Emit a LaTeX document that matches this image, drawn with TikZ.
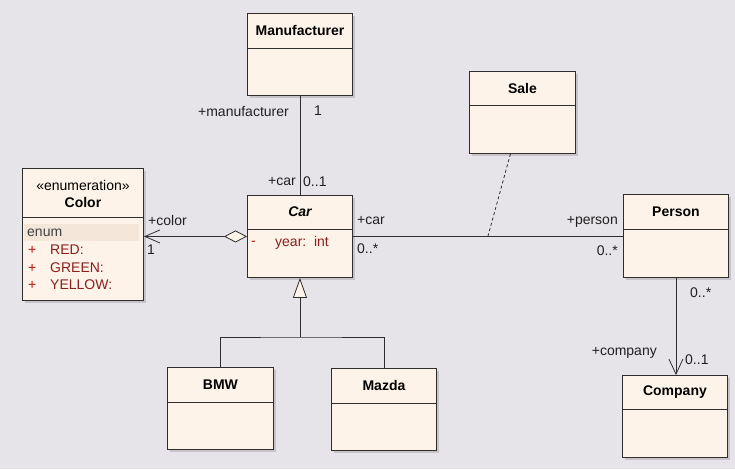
\documentclass[tikz,border=0pt]{standalone}
\usepackage{fontspec}
\setmainfont{Liberation Sans}
\usetikzlibrary{arrows.meta,shadows,calc}
\definecolor{bg}{HTML}{E7E4E9}
\definecolor{boxfill}{HTML}{FDF3E8}
\definecolor{enumrow}{HTML}{F4E6D9}
\definecolor{shadowc}{HTML}{C7C3C8}
\definecolor{border}{HTML}{2E2E2E}
\definecolor{attr}{HTML}{8B1E1E}
\definecolor{vis}{HTML}{C01010}
\definecolor{lbl}{HTML}{202020}
\tikzset{
  cls/.style={draw=border, line width=0.9pt, fill=boxfill, anchor=north west, inner sep=0pt,
    drop shadow={shadow xshift=3pt, shadow yshift=-3pt, fill=shadowc, opacity=1}},
  ttl/.style={font=\fontsize{14}{16}\selectfont\bfseries, text=black, inner sep=0pt},
  txt/.style={font=\fontsize{14}{16}\selectfont, text=lbl, inner sep=0pt},
  atxt/.style={font=\fontsize{14}{16}\selectfont, text=attr, inner sep=0pt, anchor=west},
  vtxt/.style={font=\fontsize{14}{16}\selectfont, text=vis, inner sep=0pt, anchor=west},
  divline/.style={draw=border, line width=0.9pt},
  conn/.style={draw=border, line width=0.8pt},
}
\begin{document}
\begin{tikzpicture}[x=1pt,y=-1pt]
\path[fill=bg] (0,0) rectangle (735,469);
\useasboundingbox (0,0) rectangle (735,469);

% Classes
\node[cls, minimum width=105pt, minimum height=82pt] (man) at (247,13) {};
\draw[divline] ([yshift=-35pt]man.north west) -- ([yshift=-35pt]man.north east);
\node[ttl] (mant) at ([yshift=-17.5pt]man.north) {Manufacturer};

\node[cls, minimum width=121pt, minimum height=132pt] (color) at (22,168) {};
\fill[enumrow] (24,224) rectangle (139,241);
\draw[divline] ([yshift=-49pt]color.north west) -- ([yshift=-49pt]color.north east);
\node[txt, text=black] (colst) at ([yshift=-17pt]color.north) {«enumeration»};
\node[ttl] (colt) at ([yshift=-34pt]color.north) {Color};
\node[txt, anchor=west, text=black!75] (cenum) at (27,233) {enum};
\node[vtxt] (cp1) at (28,250) {+};
\node[atxt] (cred) at (50,250) {RED:};
\node[vtxt] (cp2) at (28,268) {+};
\node[atxt] (cgreen) at (50,268) {GREEN:};
\node[vtxt] (cp3) at (28,285) {+};
\node[atxt] (cyellow) at (50,285) {YELLOW:};

\node[cls, minimum width=105pt, minimum height=82pt] (car) at (247,195) {};
\draw[divline] ([yshift=-34pt]car.north west) -- ([yshift=-34pt]car.north east);
\node[ttl, font=\fontsize{14}{16}\selectfont\bfseries\itshape] (cart) at ([yshift=-17pt]car.north) {Car};
\node[vtxt] (carv) at (251,243) {-};
\node[atxt] (cary) at (275,243) {year:\ \ int};

\node[cls, minimum width=106pt, minimum height=82pt] (sale) at (469,71) {};
\draw[divline] ([yshift=-34pt]sale.north west) -- ([yshift=-34pt]sale.north east);
\node[ttl] (salet) at ([yshift=-17pt]sale.north) {Sale};

\node[cls, minimum width=105pt, minimum height=83pt] (person) at (623,194) {};
\draw[divline] ([yshift=-35pt]person.north west) -- ([yshift=-35pt]person.north east);
\node[ttl] (persont) at ([yshift=-17.5pt]person.north) {Person};

\node[cls, minimum width=105pt, minimum height=82pt] (company) at (622,375) {};
\draw[divline] ([yshift=-34pt]company.north west) -- ([yshift=-34pt]company.north east);
\node[ttl] (companyt) at ([yshift=-17pt]company.north) {Company};

\node[cls, minimum width=106pt, minimum height=82pt] (bmw) at (167,367) {};
\draw[divline] ([yshift=-35pt]bmw.north west) -- ([yshift=-35pt]bmw.north east);
\node[ttl] (bmwt) at ([yshift=-17.5pt]bmw.north) {BMW};

\node[cls, minimum width=105pt, minimum height=82pt] (mazda) at (331,368) {};
\draw[divline] ([yshift=-35pt]mazda.north west) -- ([yshift=-35pt]mazda.north east);
\node[ttl] (mazdat) at ([yshift=-17.5pt]mazda.north) {Mazda};

% Connectors
\draw[conn] (man.south) -- (car.north);
\draw[conn, {Diamond[open, fill=boxfill, length=23pt, width=12pt]}-{Straight Barb[length=15pt, width=13pt]}]
  (car.west) -- (color.east |- car.west);
\draw[conn] (car.east) -- (person.west |- car.east);
\coordinate (amid) at (488,236);
\draw[conn, dash pattern=on 3pt off 2.5pt] ($(sale.south)+(-12,0)$) -- (amid);
\draw[conn, -{Straight Barb[length=15pt, width=14pt]}] (person.south) -- (person.south |- company.north);
\coordinate (jn) at (car.south |- 0,337);
\draw[conn, -{Triangle[open, fill=boxfill, length=20pt, width=14pt]}] (jn) -- (car.south);
\draw[conn] (bmw.north) |- (jn) -| (mazda.north);

% Labels
\node[txt, anchor=east] (l1) at (289,111) {+manufacturer};
\node[txt, anchor=west] (l2) at (314,111) {1};
\node[txt, anchor=east] (l3) at (296,182) {+car};
\node[txt, anchor=west] (l4) at (303,182) {0..1};
\node[txt, anchor=west] (l5) at (148,220) {+color};
\node[txt, anchor=west] (l6) at (147,250) {1};
\node[txt, anchor=west] (l7) at (357,221) {+car};
\node[txt, anchor=west] (l8) at (357,249) {0..*};
\node[txt, anchor=east] (l9) at (618,222) {+person};
\node[txt, anchor=east] (l10) at (618,251) {0..*};
\node[txt, anchor=west] (l11) at (690,293) {0..*};
\node[txt, anchor=east] (l12) at (657,353) {+company};
\node[txt, anchor=west] (l13) at (685,360) {0..1};
\end{tikzpicture}
\end{document}
